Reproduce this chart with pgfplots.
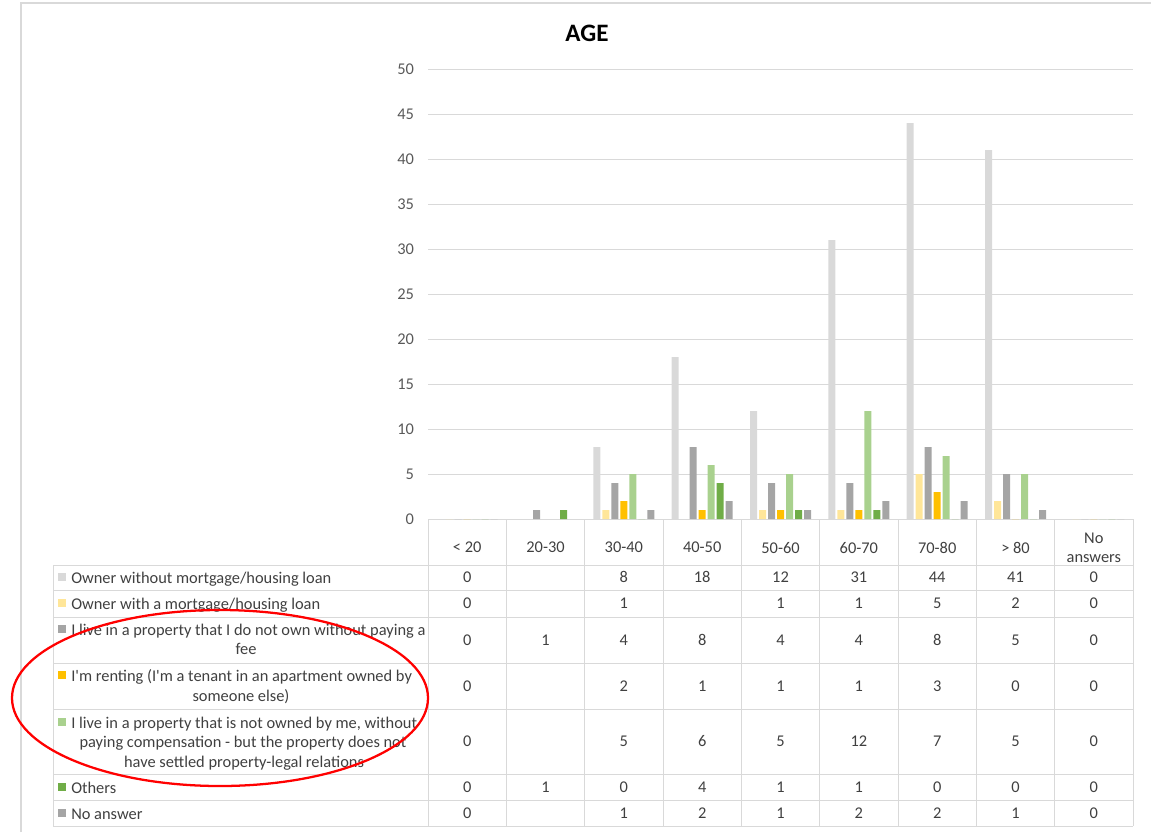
\documentclass[border=0pt]{standalone}
\usepackage{pgfplots}
\pgfplotsset{compat=1.18}
\usepackage{pgfplotstable}
\usepackage{fontspec}
\setmainfont{Carlito}

\definecolor{cA}{HTML}{D9D9D9}
\definecolor{cB}{HTML}{FFE699}
\definecolor{cC}{HTML}{A5A5A5}
\definecolor{cD}{HTML}{FFC000}
\definecolor{cE}{HTML}{A9D18E}
\definecolor{cF}{HTML}{70AD47}
\definecolor{cG}{HTML}{A5A5A5}
\definecolor{txt}{HTML}{595959}
\definecolor{tabtxt}{HTML}{404040}
\definecolor{gridc}{HTML}{D9D9D9}

% age group (0 = <20 ... 8 = no answers); nan = empty cell
\pgfplotstableread{
x s1  s2  s3 s4  s5  s6  s7
0 0   0   0  0   0   0   0
1 nan nan 1  nan nan 1   nan
2 8   1   4  2   5   0   1
3 18  nan 8  1   6   4   2
4 12  1   4  1   5   1   1
5 31  1   4  1   12  1   2
6 44  5   8  3   7   0   2
7 41  2   5  0   5   0   1
8 0   0   0  0   0   0   0
}\agedata

\def\nanstr{nan}
\newcommand{\tabfont}{\fontsize{12.3}{14.5}\selectfont}

\begin{document}
\begin{tikzpicture}
\begin{scope}[x=0.75pt,y=-0.75pt]
  \useasboundingbox (0,0) rectangle (1151,832);
  \draw[gridc, line width=1.1pt] (21,832) -- (21,3) -- (1151,3);
\end{scope}

\begin{axis}[
  at={(321pt,-389.25pt)}, anchor=south west,
  scale only axis, width=528.75pt, height=337.5pt,
  xmin=-0.5, xmax=8.5, ymin=0, ymax=50,
  ytick={0,5,...,50},
  xtick={0,...,8},
  xticklabels={{< 20},{20-30},{30-40},{40-50},{50-60},{60-70},{70-80},{> 80},{No\\answers}},
  xticklabel style={anchor=center, yshift=-17.25pt, align=center, text=tabtxt},
  yticklabel style={xshift=-7pt, text=txt},
  /pgf/number format/assume math mode=true,
  ticklabel style={font=\tabfont},
  major tick style={draw=none},
  axis line style={draw=none},
  ymajorgrids,
  grid style={gridc, line width=0.75pt},
  ybar=1.5pt, bar width=5.25pt,
  clip=false,
]
\addplot[fill=cA, draw=none] table[x=x,y=s1]{\agedata};
\addplot[fill=cB, draw=none] table[x=x,y=s2]{\agedata};
\addplot[fill=cC, draw=none] table[x=x,y=s3]{\agedata};
\addplot[fill=cD, draw=none] table[x=x,y=s4]{\agedata};
\addplot[fill=cE, draw=none] table[x=x,y=s5]{\agedata};
\addplot[fill=cF, draw=none] table[x=x,y=s6]{\agedata};
\addplot[fill=cG, draw=none] table[x=x,y=s7]{\agedata};
\end{axis}

\begin{scope}[x=0.75pt,y=-0.75pt, every node/.style={font=\tabfont, text=tabtxt, inner sep=0}]
  % title
  \node[font=\bfseries\fontsize{18.8}{22}\selectfont, text=black] at (587,33.5) {AGE};
  % data table grid
  \foreach \xx in {428,506.33,584.67,663,741.33,819.67,898,976.33,1054.67,1133}
    \draw[gridc, line width=0.75pt] (\xx,519) -- (\xx,826);
  \draw[gridc, line width=0.75pt] (53,565) -- (53,826);
  \foreach \yy in {565,590,617,663,709,774,800,826}
    \draw[gridc, line width=0.75pt] (53,\yy) -- (1133,\yy);
  % table values
  \foreach \c/\yy in {s1/577,s2/603,s3/640,s4/686,s5/741,s6/787,s7/813} {
    \foreach \r in {0,...,8} {
      \pgfplotstablegetelem{\r}{\c}\of\agedata
      \edef\cell{\pgfplotsretval}
      \ifx\cell\nanstr\else
        \node at ({467.17+78.33*\r},\yy) {\cell};
      \fi
    }
  }
  % legend keys
  \foreach \col/\yy in {cA/577,cB/603,cC/629,cD/675,cE/722,cF/787,cG/813}
    \fill[\col] (58,\yy-4) rectangle (66,\yy+4);
  \node[anchor=base west] at (71,583) {Owner without mortgage/housing loan};
  \node[anchor=base west] at (71,609) {Owner with a mortgage/housing loan};
  \node[anchor=base west] at (71,635) {I live in a property that I do not own without paying a};
  \node[anchor=base] at (246,654) {fee};
  \node[anchor=base west] at (71,681) {I\textquotesingle m renting (I\textquotesingle m a tenant in an apartment owned by};
  \node[anchor=base] at (241,701) {someone else)};
  \node[anchor=base west] at (71,728) {I live in a property that is not owned by me, without};
  \node[anchor=base] at (243,747) {paying compensation - but the property does not};
  \node[anchor=base] at (244,767) {have settled property-legal relations};
  \node[anchor=base west] at (71,793) {Others};
  \node[anchor=base west] at (71,819) {No answer};
  % annotation
  \draw[red, line width=1.7pt] (220,698) ellipse [x radius=208, y radius=88];
\end{scope}
\end{tikzpicture}
\end{document}
